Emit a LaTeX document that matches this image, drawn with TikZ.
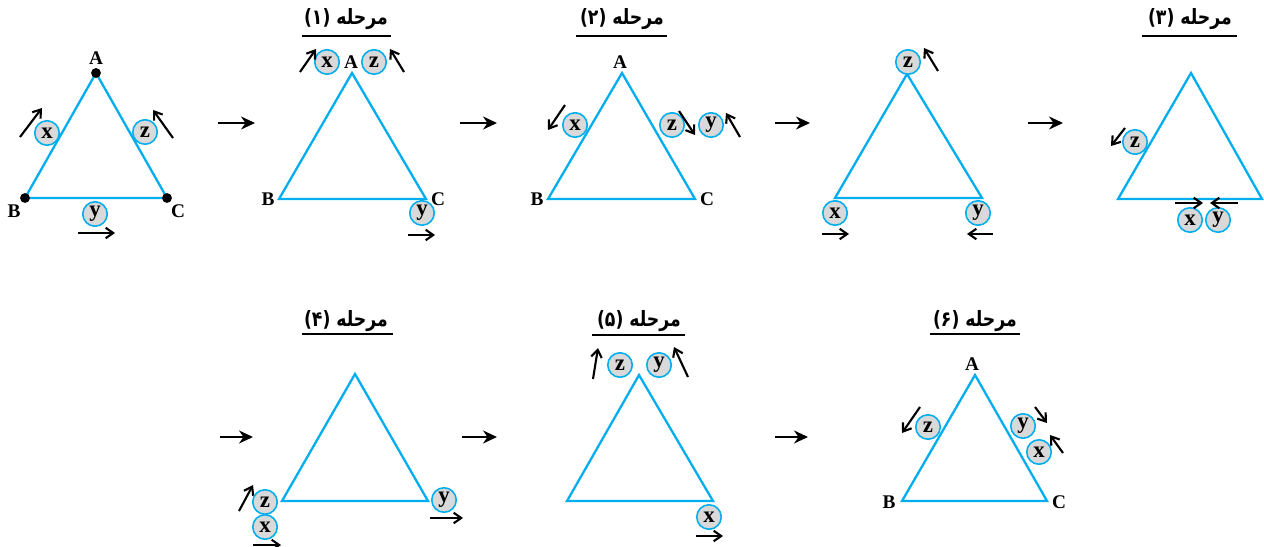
\documentclass[tikz,border=0pt]{standalone}
\usepackage{fontspec}
\setmainfont{Liberation Serif}
\newfontfamily\fa[Script=Arabic]{DejaVu Sans}
\TeXXeTstate=1
\usepackage{tikz}
\usetikzlibrary{arrows.meta}
\definecolor{edgeblue}{RGB}{0,174,239}
\definecolor{ballgray}{RGB}{217,217,217}
\newcommand{\stagetitle}[1]{\scalebox{0.82}[1]{\beginR مرحله (#1)\endR}}

\begin{document}
\begin{tikzpicture}[
    x=0.02cm, y=-0.02cm,
    tri/.style={draw=edgeblue, line width=1.3pt, line join=miter},
    ball/.style={circle, draw=edgeblue, fill=ballgray, line width=0.9pt, minimum size=0.49cm, inner sep=0pt, font=\fontsize{13}{13}\selectfont\bfseries},
    vlabel/.style={inner sep=0pt, font=\fontsize{11}{12}\selectfont\bfseries},
    move/.style={-{Straight Barb[length=1.5mm, width=2.1mm]}, line width=1.2pt},
    stagearrow/.style={-{Stealth[length=2.8mm, width=2.6mm]}, line width=1.2pt},
    title/.style={inner sep=1pt, font=\fa\fontsize{12}{14}\selectfont\bfseries},
    rule/.style={line width=1.1pt}
]
\useasboundingbox (0,0) rectangle (1264,547);

\coordinate (A0) at (96,73);
\coordinate (B0) at (25,198);
\coordinate (C0) at (167,198);
\draw[tri] (A0) -- (B0) -- (C0) -- cycle;
\foreach \v in {A0,B0,C0} \fill (\v) circle (2.8pt);
\node[vlabel] (a0) at (96,58) {A};
\node[vlabel] (b0) at (14,211) {B};
\node[vlabel] (c0) at (178,211) {C};
\node[ball] (x0) at (47,133) {x};
\node[ball] (z0) at (145,132) {z};
\node[ball] (y0) at (95,214) {y};
\draw[move] (20,137) -- (42,108);
\draw[move] (173,138) -- (153,110);
\draw[move] (78,233) -- (115,233);

\draw[stagearrow] (218,123) -- (255,123);

\node[title] (t1) at (346,19) {\stagetitle{۱}};
\draw[rule] (302,36) -- (391,36);
\coordinate (A1) at (352,73);
\coordinate (B1) at (279,199);
\coordinate (C1) at (426,199);
\draw[tri] (A1) -- (B1) -- (C1) -- cycle;
\node[vlabel] (a1) at (351,62) {A};
\node[vlabel] (b1) at (268,199) {B};
\node[vlabel] (c1) at (438,199) {C};
\node[ball] (x1) at (327,62) {x};
\node[ball] (z1) at (374,62) {z};
\node[ball] (y1) at (422,213) {y};
\draw[move] (300,72) -- (316,49);
\draw[move] (404,72) -- (390,49);
\draw[move] (408,235) -- (435,235);

\draw[stagearrow] (460,123) -- (497,123);

\node[title] (t2) at (622,19) {\stagetitle{۲}};
\draw[rule] (576,36) -- (667,36);
\coordinate (A2) at (622,73);
\coordinate (B2) at (548,199);
\coordinate (C2) at (695,199);
\draw[tri] (A2) -- (B2) -- (C2) -- cycle;
\node[vlabel] (a2) at (620,62) {A};
\node[vlabel] (b2) at (537,199) {B};
\node[vlabel] (c2) at (707,199) {C};
\node[ball] (x2) at (575,125) {x};
\node[ball] (z2) at (672,125) {z};
\node[ball] (y2) at (711,125) {y};
\draw[move] (565,105) -- (548,130);
\draw[move] (679,111) -- (695,135);
\draw[move] (740,137) -- (726,113);

\draw[stagearrow] (775,123) -- (810,123);

\coordinate (A3) at (907,74);
\coordinate (B3) at (835,198);
\coordinate (C3) at (982,198);
\draw[tri] (A3) -- (B3) -- (C3) -- cycle;
\node[ball] (z3) at (908,62) {z};
\node[ball] (x3) at (835,213) {x};
\node[ball] (y3) at (978,213) {y};
\draw[move] (938,71) -- (924,48);
\draw[move] (822,234) -- (849,234);
\draw[move] (993,234) -- (967,234);

\draw[stagearrow] (1028,123) -- (1063,123);

\node[title] (t4) at (1190,19) {\stagetitle{۳}};
\draw[rule] (1142,36) -- (1237,36);
\coordinate (A4) at (1191,73);
\coordinate (B4) at (1118,199);
\coordinate (C4) at (1262,199);
\draw[tri] (A4) -- (B4) -- (C4) -- cycle;
\node[ball] (z4) at (1135,142) {z};
\node[ball] (x4) at (1190,220) {x};
\node[ball] (y4) at (1218,220) {y};
\draw[move] (1125,128) -- (1111,146);
\draw[move] (1175,203) -- (1203,203);
\draw[move] (1238,203) -- (1210,203);

\draw[stagearrow] (220,437) -- (253,437);

\node[title] (t5) at (346,321) {\stagetitle{۴}};
\draw[rule] (302,334) -- (393,334);
\coordinate (A5) at (355,374);
\coordinate (B5) at (282,501);
\coordinate (C5) at (428,501);
\draw[tri] (A5) -- (B5) -- (C5) -- cycle;
\node[ball] (z5) at (265,502) {z};
\node[ball] (x5) at (265,527) {x};
\node[ball] (y5) at (444,500) {y};
\draw[move] (239,511) -- (253,485);
\draw[move] (253,545) -- (281,545);
\draw[move] (430,518) -- (463,518);

\draw[stagearrow] (462,437) -- (497,437);

\node[title] (t6) at (639,321) {\stagetitle{۵}};
\draw[rule] (592,335) -- (685,335);
\coordinate (A6) at (639,375);
\coordinate (B6) at (567,501);
\coordinate (C6) at (713,501);
\draw[tri] (A6) -- (B6) -- (C6) -- cycle;
\node[ball] (z6) at (620,365) {z};
\node[ball] (y6) at (659,365) {y};
\node[ball] (x6) at (709,517) {x};
\draw[move] (593,379) -- (598,348);
\draw[move] (688,377) -- (674,347);
\draw[move] (696,536) -- (723,536);

\draw[stagearrow] (775,437) -- (808,437);

\node[title] (t7) at (975,321) {\stagetitle{۶}};
\draw[rule] (930,334) -- (1020,334);
\coordinate (A7) at (975,375);
\coordinate (B7) at (902,501);
\coordinate (C7) at (1047,501);
\draw[tri] (A7) -- (B7) -- (C7) -- cycle;
\node[vlabel] (a7) at (972,364) {A};
\node[vlabel] (b7) at (889,502) {B};
\node[vlabel] (c7) at (1059,502) {C};
\node[ball] (z7) at (928,427) {z};
\node[ball] (y7) at (1023,426) {y};
\node[ball] (x7) at (1039,452) {x};
\draw[move] (920,407) -- (902,433);
\draw[move] (1035,407) -- (1047,423);
\draw[move] (1063,453) -- (1050,435);
\end{tikzpicture}
\end{document}
